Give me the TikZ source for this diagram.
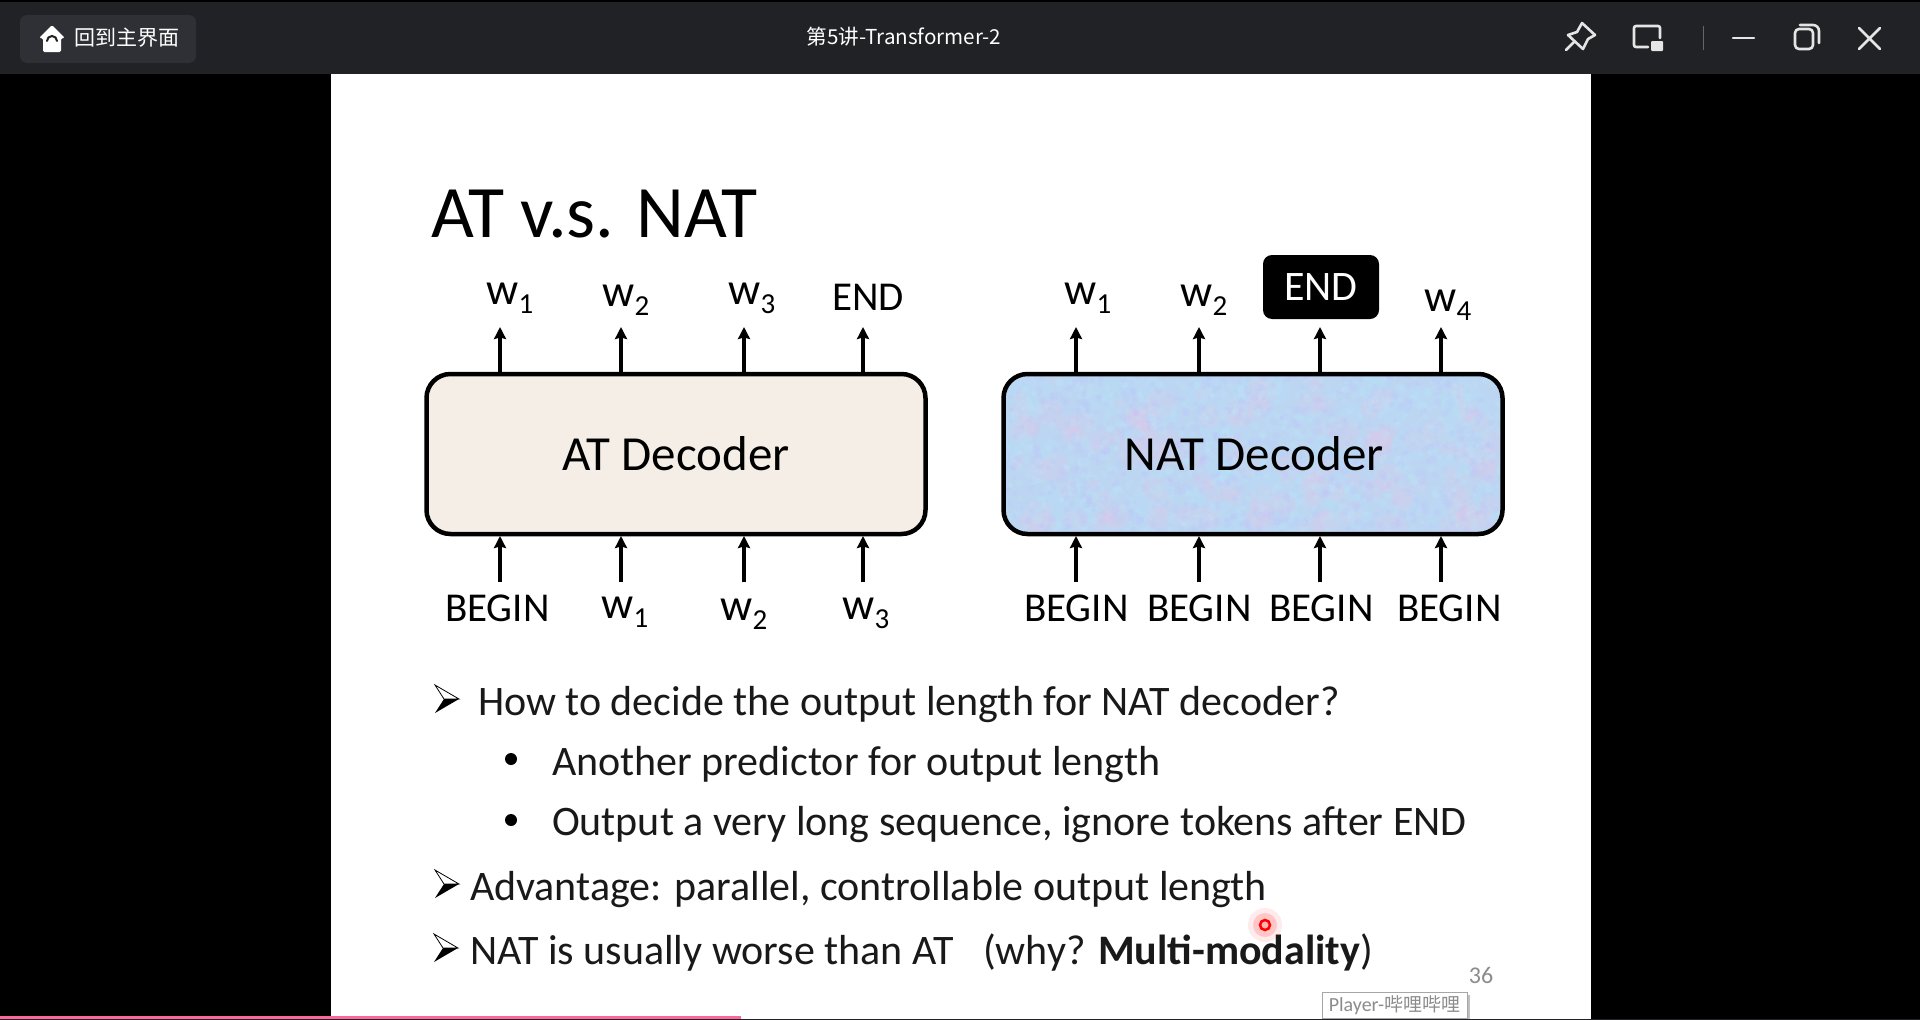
\documentclass[tikz,border=0pt]{standalone}
\usepackage{fontspec}
\setmainfont{Carlito}
\newfontfamily\cjk{Noto Sans CJK SC}
\usetikzlibrary{arrows.meta}
\definecolor{barcol}{HTML}{202225}
\definecolor{btncol}{HTML}{2F3035}
\definecolor{atcol}{HTML}{F4EEE6}
\definecolor{natcol}{HTML}{BCD6F2}
\definecolor{progcol}{HTML}{FF6699}
\newcommand{\wsub}[2]{{\fontsize{45}{45}\selectfont w}\kern0.5pt\raisebox{-9pt}{\fontsize{29}{29}\selectfont #2}}
\tikzset{
    lbl/.style={anchor=base west, inner sep=0pt, outer sep=0pt, font=\fontsize{41}{41}\selectfont},
    line/.style={anchor=base west, inner sep=0pt, outer sep=0pt, font=\fontsize{42}{42}\selectfont, text=black!90},
    decoder/.style={rounded corners=24pt, line width=4.5pt, minimum width=499pt, minimum height=160pt, inner sep=0pt, outer sep=0pt},
    decname/.style={anchor=base, inner sep=0pt, font=\fontsize{49}{49}\selectfont},
    arr/.style={-{Stealth[length=12pt,width=12pt,inset=1.5pt]}, line width=3.2pt},
    icon/.style={draw=white!90!black, line width=2.6pt, line cap=round, line join=round},
    bulletarrow/.pic={
        \draw[line width=0.8pt, fill=white] (-12,-14) -- (12,0) -- (-3,0) -- cycle;
        \fill[black] (-12,14) -- (12,0) -- (-3,0) -- cycle;
    }
}
\begin{document}
\begin{tikzpicture}[x=1pt, y=-1pt]
    \useasboundingbox (0,0) rectangle (1920,1020);
    \fill[black] (0,0) rectangle (1920,1020);

    % Title bar
    \fill[barcol] (0,2) rectangle (1920,74);
    \node[rounded corners=7pt, fill=btncol, minimum width=176pt, minimum height=48pt, inner sep=0pt] (backbtn) at (108,39) {};
    \fill[white, rounded corners=1.5pt] (52,25) -- (65,38) -- (61,38) -- (61,52) -- (43,52) -- (43,38) -- (39,38) -- cycle;
    \draw[barcol, line width=2pt, line cap=round] (47,41) arc (180:360:5);
    \node[anchor=west, inner sep=0pt, text=white] (backtext) at (74,38) {\cjk\fontsize{21}{21}\selectfont 回到主界面};
    \node[anchor=center, inner sep=0pt, text=white] (titletext) at (904,37) {\cjk\fontsize{20.6}{21}\selectfont 第5讲-Transformer-2};

    % Window buttons
    \draw[icon] (1582,23) -- (1595,35) -- (1588,39) -- (1583,49) -- (1568,35) -- (1577,32) -- cycle;
    \draw[icon] (1566,50) -- (1574,42);
    \draw[icon, rounded corners=2pt] (1660,38) -- (1660,26) -- (1634,26) -- (1634,47) -- (1648,47);
    \fill[white!90!black, rounded corners=1pt] (1651,41) rectangle (1663,51);
    \draw[black!60!white, line width=1pt] (1703,26) -- (1703,50);
    \draw[icon] (1733,38) -- (1754,38);
    \draw[icon, rounded corners=4pt] (1795,29) rectangle (1813,49);
    \draw[icon, rounded corners=6pt] (1800,25) -- (1819,25) -- (1819,43);
    \draw[icon] (1859,28) -- (1880,49) (1880,28) -- (1859,49);

    % Slide
    \fill[white] (331,74) rectangle (1591,1020);
    \node[lbl, font=\fontsize{74}{74}\selectfont] (slidetitle) at (431,237) {AT v.s. NAT};

    % AT decoder
    \node[decoder, draw, fill=atcol] (ATbox) at (676,454) {};
    \node[decname] (ATname) at (676,470) {AT Decoder};
    \foreach \i/\xa in {1/500,2/621,3/744,4/863} {
        \coordinate (ATout\i) at (\xa,327);
        \coordinate (ATin\i) at (\xa,582);
        \draw[arr] (ATout\i |- ATbox.north) -- (ATout\i);
        \draw[arr, shorten >=2pt] (ATin\i) -- (ATin\i |- ATbox.south);
    }
    \node[lbl] (ATw1) at (486,304) {\wsub w1};
    \node[lbl] (ATw2) at (602,306) {\wsub w2};
    \node[lbl] (ATw3) at (728,304) {\wsub w3};
    \node[lbl] (ATend) at (832,310) {END};
    \node[lbl] (ATbegin) at (445,621) {BEGIN};
    \node[lbl] (ATinw1) at (601,618) {\wsub w1};
    \node[lbl] (ATinw2) at (720,620) {\wsub w2};
    \node[lbl] (ATinw3) at (842,619) {\wsub w3};

    % NAT decoder
    \begin{scope}
        \path[fill=natcol] [rounded corners=24pt] (1003,374) rectangle (1503,534);
        \clip[rounded corners=24pt] (1003,374) rectangle (1503,534);
        \pgfmathsetseed{36}
        \foreach \n in {1,...,120} {
            \fill[magenta!25!white, opacity=0.14] ({1003+500*rnd},{374+160*rnd}) circle ({6+10*rnd});
            \fill[cyan!30!white, opacity=0.14] ({1003+500*rnd},{374+160*rnd}) circle ({6+10*rnd});
        }
        \foreach \n in {1,...,900} {
            \fill[blue!25!white, opacity=0.16] ({1003+500*rnd},{374+160*rnd}) circle ({1.5+3*rnd});
            \fill[cyan!25!white, opacity=0.18] ({1003+500*rnd},{374+160*rnd}) circle ({1.5+3*rnd});
        }
    \end{scope}
    \node[decoder, draw] (NATbox) at (1253,454) {};
    \node[decname] (NATname) at (1254,470) {NAT Decoder};
    \foreach \i/\xa in {1/1076,2/1199,3/1320,4/1441} {
        \coordinate (NATout\i) at (\xa,327);
        \coordinate (NATin\i) at (\xa,582);
        \draw[arr] (NATout\i |- NATbox.north) -- (NATout\i);
        \draw[arr, shorten >=2pt] (NATin\i) -- (NATin\i |- NATbox.south);
    }
    \node[lbl] (NATw1) at (1064,304) {\wsub w1};
    \node[lbl] (NATw2) at (1180,306) {\wsub w2};
    \node[lbl] (NATw4) at (1424,311) {\wsub w4};
    \node[rounded corners=9pt, fill=black, text=white, minimum width=116pt, minimum height=64pt, inner sep=0pt, font=\fontsize{42}{42}\selectfont] (NATend) at (1321,287) {\raisebox{-4pt}{END}};
    \foreach \i/\xa in {1/1024,2/1147,3/1269,4/1397} {
        \node[lbl] (NATbegin\i) at (\xa,621) {BEGIN};
    }

    % Bullets
    \pic at (447,699) {bulletarrow};
    \node[line] (lineA) at (478,715) {How to decide the output length for NAT decoder?};
    \fill (511,759) circle (6);
    \node[line] (lineB) at (552,775) {Another predictor for output length};
    \fill (511,820) circle (6);
    \node[line] (lineC) at (552,835) {Output a very long sequence, ignore tokens after END};
    \pic at (447,884) {bulletarrow};
    \node[line] (lineD) at (470,900) {Advantage: parallel, controllable output length};
    \pic at (446,948) {bulletarrow};
    \node[line] (lineE) at (470,964) {NAT is usually worse than AT};
    \node[line] (lineF) at (983,964) {(why? \textbf{Multi-modality})};

    % Pointer and page number
    \fill[red, opacity=0.08] (1265,925) circle (17);
    \fill[red, opacity=0.15] (1265,925) circle (12);
    \draw[red, line width=2.5pt, fill=red!30!white] (1265,925) circle (5);
    \node[anchor=center, inner sep=0pt, text=black!45, font=\fontsize{24}{24}\selectfont] (pagenum) at (1481,975) {36};

    % Player tooltip
    \fill[black!25] (1325,995) rectangle (1470,1019);
    \node[draw=black!35, fill=white, line width=0.8pt, minimum width=145pt, minimum height=26pt, inner sep=0pt, text=black!45, font=\fontsize{20}{20}\selectfont] (tooltip) at (1394.5,1005) {Player-{\cjk\fontsize{19}{19}\selectfont 哔哩哔哩}};

    % Progress bar
    \fill[barcol] (0,1019) rectangle (1920,1020);
    \fill[progcol] (0,1016) rectangle (741,1019);
\end{tikzpicture}
\end{document}
